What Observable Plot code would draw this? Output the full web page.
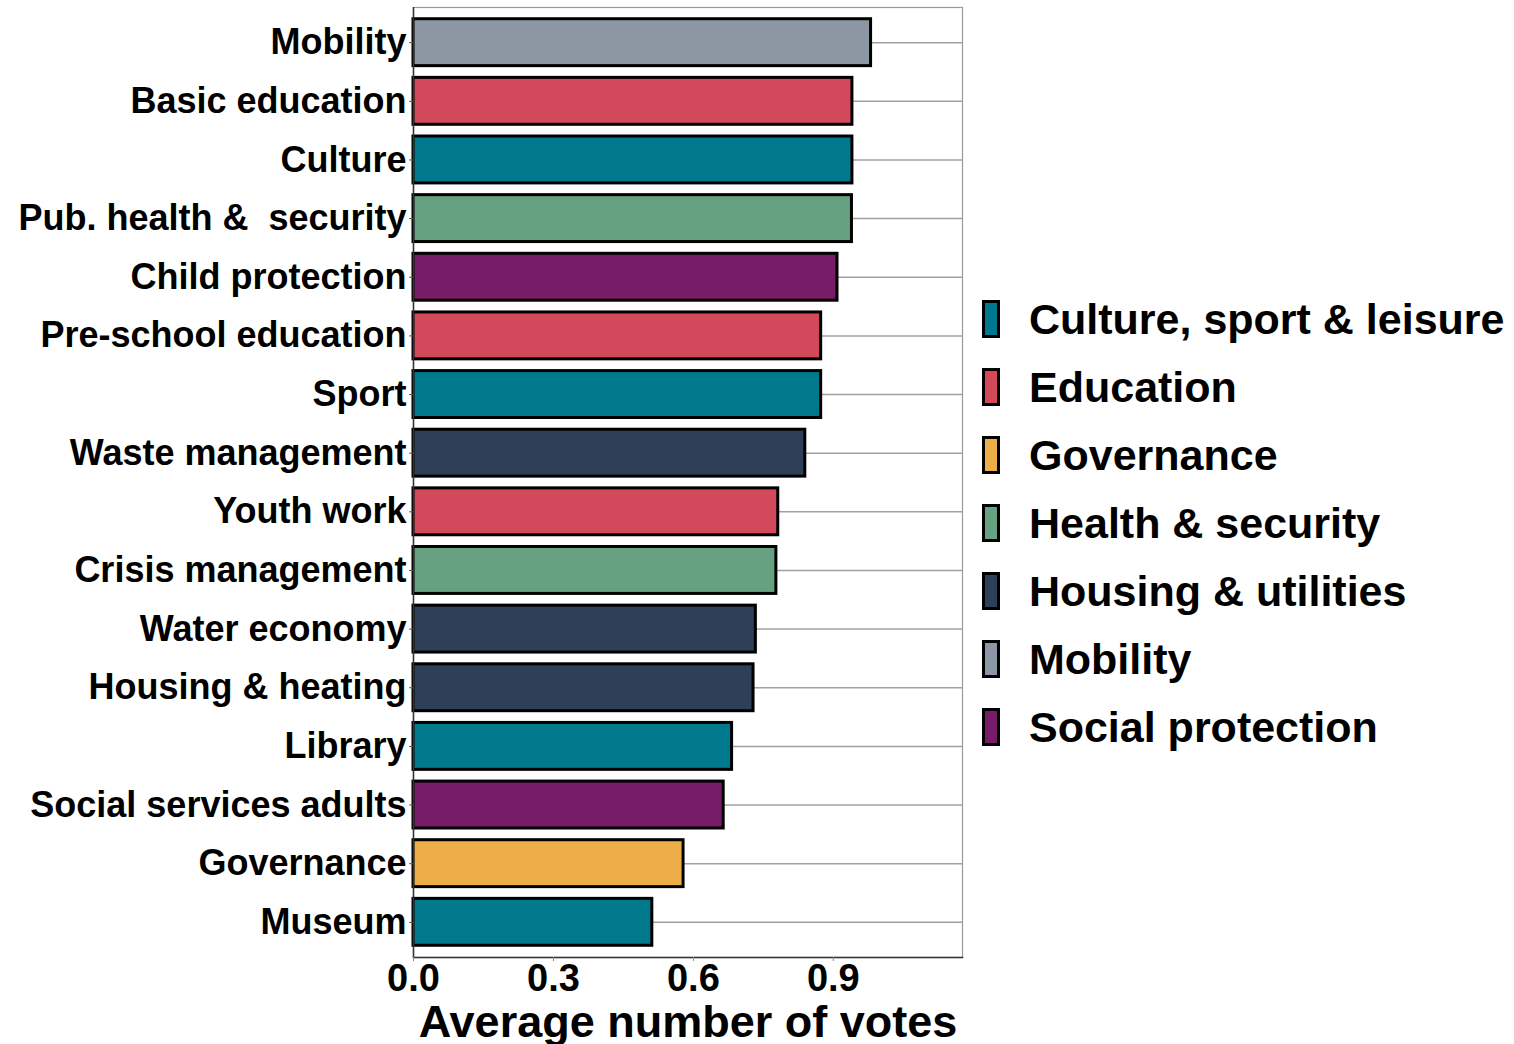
<!DOCTYPE html>
<html>
<head>
<meta charset="utf-8">
<script src="https://cdn.jsdelivr.net/npm/d3@7"></script>
<script src="https://cdn.jsdelivr.net/npm/@observablehq/plot@0.6"></script>
<style>
  html, body { margin: 0; padding: 0; background: white; }
  #wrap { position: relative; width: 1514px; height: 1044px; overflow: hidden; font-family: "Liberation Sans", Arial, sans-serif; }
  svg text { white-space: pre; }
  #legend { position: absolute; left: 982px; top: 0; }
  .item { position: absolute; left: 0; height: 68px; display: flex; align-items: center; white-space: nowrap; }
  .sw { width: 12px; height: 32px; border: 3px solid #000; box-sizing: content-box; }
  .lab { margin-left: 29px; font-size: 43px; font-weight: bold; color: #000; }
</style>
</head>
<body>
<div id="wrap"></div>
<script>
const categories = ["Mobility","Basic education","Culture","Pub. health &  security","Child protection","Pre-school education","Sport","Waste management","Youth work","Crisis management","Water economy","Housing & heating","Library","Social services adults","Governance","Museum"];
const values = [0.981,0.941,0.941,0.940,0.909,0.874,0.874,0.840,0.782,0.778,0.734,0.729,0.683,0.665,0.579,0.512];
const groups = ["Mobility","Education","Culture, sport & leisure","Health & security","Social protection","Education","Culture, sport & leisure","Housing & utilities","Education","Health & security","Housing & utilities","Housing & utilities","Culture, sport & leisure","Social protection","Governance","Culture, sport & leisure"];
const groupNames = ["Culture, sport & leisure","Education","Governance","Health & security","Housing & utilities","Mobility","Social protection"];
const groupColors = ["#00798c","#d1495b","#edae49","#66a182","#2e4057","#8d96a3","#771c67"];
const xTicks = [0, 0.3, 0.6, 0.9];
const xLabel = "Average number of votes";

const data = categories.map((c, i) => ({category: c, value: values[i], group: groups[i]}));

const chart = Plot.plot({
  width: 1514,
  height: 1044,
  marginLeft: 413,
  marginRight: 552,
  marginTop: 7,
  marginBottom: 87,
  style: {fontFamily: "'Liberation Sans', Arial, sans-serif", background: "white", color: "black"},
  x: {domain: [0, 1.177], label: null},
  y: {domain: categories, padding: 0.2, round: false, label: null},
  color: {domain: groupNames, range: groupColors},
  marks: [
    Plot.gridY({stroke: "#a0a0a0", strokeOpacity: 1, strokeWidth: 1.5}),
    Plot.frame({stroke: "#9a9a9a", strokeWidth: 1.2}),
    Plot.barX(data, {x: "value", y: "category", fill: "group", stroke: "#000", strokeWidth: 3}),
    Plot.ruleX([0], {stroke: "#333", strokeWidth: 1.5}),
    Plot.frame({anchor: "bottom", stroke: "#333", strokeWidth: 1.5}),
    Plot.axisY({tickSize: 4, tickPadding: 3, fontSize: 36, fontWeight: "bold", stroke: "#555", label: null}),
    Plot.axisX({ticks: xTicks, tickFormat: d3.format(".1f"), tickSize: 4, tickPadding: 3, fontSize: 38, fontWeight: "bold", stroke: "#888", label: null}),
    Plot.text([xLabel], {frameAnchor: "bottom", dy: 65, lineAnchor: "middle", fontSize: 45, fontWeight: "bold", fill: "#000"})
  ]
});

const wrap = document.getElementById("wrap");
wrap.appendChild(chart);

const legend = document.createElement("div");
legend.id = "legend";
groupNames.forEach((g, i) => {
  const item = document.createElement("div");
  item.className = "item";
  item.style.top = (319 + 68 * i - 34) + "px";
  const sw = document.createElement("div");
  sw.className = "sw";
  sw.style.background = groupColors[i];
  const lab = document.createElement("div");
  lab.className = "lab";
  lab.textContent = g;
  item.appendChild(sw);
  item.appendChild(lab);
  legend.appendChild(item);
});
wrap.appendChild(legend);
</script>
</body>
</html>
